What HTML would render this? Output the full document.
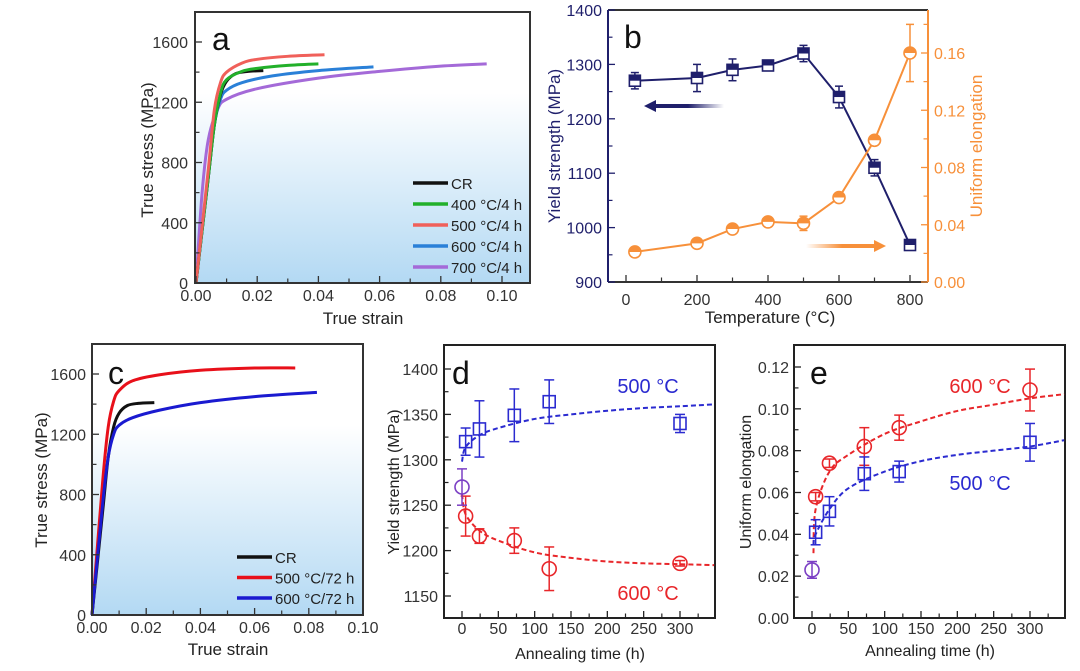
<!DOCTYPE html>
<html><head><meta charset="utf-8">
<style>
html,body{margin:0;padding:0;background:#fff;}
svg{display:block;font-family:"Liberation Sans",Arial,sans-serif;}
</style></head>
<body>
<svg id="fig" width="1080" height="671" viewBox="0 0 1080 671" xmlns="http://www.w3.org/2000/svg">
<defs>
<linearGradient id="bgGrad" x1="0" y1="0" x2="0" y2="1">
<stop offset="0" stop-color="#ffffff"/><stop offset="0.3" stop-color="#ffffff"/><stop offset="1" stop-color="#b3d9f3"/>
</linearGradient>
<linearGradient id="navyArr" x1="0" y1="0" x2="1" y2="0">
<stop offset="0" stop-color="#1f1f6b"/><stop offset="0.5" stop-color="#1f1f6b"/><stop offset="1" stop-color="#1f1f6b" stop-opacity="0"/>
</linearGradient>
<linearGradient id="orArr" x1="0" y1="0" x2="1" y2="0">
<stop offset="0" stop-color="#f7903a" stop-opacity="0"/><stop offset="0.5" stop-color="#f7903a"/><stop offset="1" stop-color="#f7903a"/>
</linearGradient>
</defs>
</svg>
<script>
// ---------- Panel a data ----------
const aCR_x=[0,0.004,0.006,0.008,0.010,0.013,0.017,0.022];
const aCR_y=[0,700,1050,1250,1340,1390,1405,1410];
const a400_x=[0,0.004,0.006,0.008,0.010,0.015,0.020,0.030,0.040];
const a400_y=[0,700,1050,1260,1350,1405,1425,1445,1455];
const a500_x=[0,0.004,0.006,0.008,0.010,0.015,0.020,0.030,0.042];
const a500_y=[0,750,1150,1330,1400,1460,1485,1505,1515];
const a600_x=[0,0.004,0.006,0.008,0.010,0.015,0.025,0.040,0.058];
const a600_y=[0,700,1050,1220,1280,1330,1375,1410,1435];
const a700_x=[0,0.002,0.004,0.007,0.010,0.020,0.040,0.060,0.080,0.095];
const a700_y=[0,600,950,1150,1220,1290,1360,1405,1440,1455];
const aLegend=["CR","400 \u00B0C/4 h","500 \u00B0C/4 h","600 \u00B0C/4 h","700 \u00B0C/4 h"];
// ---------- Panel b data ----------
const bTemp=[25,200,300,400,500,600,700,800];
const bYS=[1270,1275,1290,1298,1320,1240,1110,968];
const bYSerr=[15,25,20,5,15,20,15,5];
const bUE=[0.021,0.027,0.037,0.042,0.041,0.059,0.099,0.160];
const bUEerr=[0.002,0.002,0.002,0.002,0.005,0.002,0.002,0.020];
// ---------- Panel c data ----------
const cCR_x=[0,0.004,0.006,0.008,0.010,0.013,0.017,0.023];
const cCR_y=[0,700,1050,1250,1340,1390,1405,1410];
const c500_x=[0,0.004,0.006,0.008,0.010,0.015,0.025,0.040,0.060,0.075];
const c500_y=[0,900,1250,1420,1490,1555,1595,1625,1640,1640];
const c600_x=[0,0.004,0.006,0.008,0.010,0.015,0.025,0.040,0.060,0.083];
const c600_y=[0,750,1050,1200,1260,1310,1360,1410,1450,1478];
const cLegend=["CR","500 \u00B0C/72 h","600 \u00B0C/72 h"];
// ---------- Panel d data ----------
const dTime=[5,24,72,120,300];
const d500=[1320,1334,1349,1364,1340];
const d500err=[15,31,29,24,10];
const d600=[1238,1216,1211,1180,1186];
const d600err=[22,8,14,24,3];
const dCR=[1270], dCRerr=[20];
const dFitT=[0,5,24,50,100,150,200,250,300,347];
const dFit500=[1298,1314,1327,1335,1345,1350,1354,1357,1359,1361];
const dFit600=[1262,1240,1222,1211,1198,1192,1188,1186,1185,1184];
// ---------- Panel e data ----------
const eTime=[5,24,72,120,300];
const e600=[0.058,0.074,0.082,0.091,0.109];
const e600err=[0.002,0.002,0.009,0.006,0.010];
const e500=[0.041,0.051,0.069,0.070,0.084];
const e500err=[0.006,0.007,0.008,0.005,0.009];
const eCR=[0.023], eCRerr=[0.004];
const eFitT=[2,5,24,50,100,150,200,250,300,347];
const eFit600=[0.031,0.052,0.070,0.078,0.088,0.094,0.099,0.102,0.105,0.107];
const eFit500=[0.035,0.040,0.052,0.062,0.070,0.075,0.078,0.080,0.082,0.085];

const NS="http://www.w3.org/2000/svg";
const svg=document.getElementById('fig');
function mk(tag,attrs,parent){const e=document.createElementNS(NS,tag);for(const k in attrs)e.setAttribute(k,attrs[k]);(parent||svg).appendChild(e);return e;}
function lin(d0,d1,r0,r1){return v=>r0+(v-d0)*(r1-r0)/(d1-d0);}
function smoothPath(pts){
 let d="M"+pts[0][0]+","+pts[0][1];
 for(let i=0;i<pts.length-1;i++){
  const p0=pts[Math.max(0,i-1)],p1=pts[i],p2=pts[i+1],p3=pts[Math.min(pts.length-1,i+2)];
  const c1=[p1[0]+(p2[0]-p0[0])/6,p1[1]+(p2[1]-p0[1])/6];
  const c2=[p2[0]-(p3[0]-p1[0])/6,p2[1]-(p3[1]-p1[1])/6];
  d+=" C"+c1[0]+","+c1[1]+" "+c2[0]+","+c2[1]+" "+p2[0]+","+p2[1];
 }
 return d;
}
function txt(x,y,s,attrs,parent){const t=mk('text',Object.assign({x:x,y:y},attrs||{}),parent);t.textContent=s;return t;}
function fmt(v,dec){return v.toFixed(dec);}
function xTicks(g,sx,y0,vals,minor,len,dec,col,labY,fs){
 vals.forEach(v=>{mk('line',{x1:sx(v),x2:sx(v),y1:y0,y2:y0-len,stroke:col,'stroke-width':1.3},g);
  const t=txt(sx(v),labY,fmt(v,dec),{'text-anchor':'middle','font-size':fs||16,fill:'#333'},g);
  });
 minor.forEach(v=>mk('line',{x1:sx(v),x2:sx(v),y1:y0,y2:y0-len/2-1,stroke:col,'stroke-width':1.2},g));
}
function yTicks(g,sy,x0,vals,minor,len,dec,col,labX,anchor,lcol,dir,fs){
 dir=dir||1;
 vals.forEach(v=>{mk('line',{x1:x0,x2:x0+dir*len,y1:sy(v),y2:sy(v),stroke:col,'stroke-width':1.3},g);
  const t=txt(labX,sy(v)+6,fmt(v,dec),{'text-anchor':anchor,'font-size':fs||16,fill:lcol||'#333'},g);
  });
 minor.forEach(v=>mk('line',{x1:x0,x2:x0+dir*(len/2+1),y1:sy(v),y2:sy(v),stroke:col,'stroke-width':1.2},g));
}
function group(name){const g=mk('g',{});return g;}

// ================= Panel a =================
(function(){
 const g=group('panel-a');
 const L=195,T=12,R=530,B=283;
 const sx=lin(0,0.10,196,502), sy=lin(0,1600,283,42);
 mk('rect',{x:L,y:T,width:R-L,height:B-T,fill:'url(#bgGrad)'},g);
 const series=[[aCR_x,aCR_y,'#111111'],[a400_x,a400_y,'#22b02a'],[a500_x,a500_y,'#f0605a'],[a600_x,a600_y,'#2a80d8'],[a700_x,a700_y,'#a46ad8']];
 const names=['curve-cr','curve-400c','curve-500c','curve-600c','curve-700c'];
 [4,3,0,1,2].forEach(i=>{const s=series[i];const p=mk('path',{d:smoothPath(s[0].map((v,j)=>[sx(v),sy(s[1][j])])),fill:'none',stroke:s[2],'stroke-width':3},g);
  });
 mk('rect',{x:L,y:T,width:R-L,height:B-T,fill:'none',stroke:'#333','stroke-width':2},g);
 xTicks(g,sx,B,[0,0.02,0.04,0.06,0.08,0.10],[0.01,0.03,0.05,0.07,0.09],7,2,'#333',301);
 yTicks(g,sy,L,[0,400,800,1200,1600],[200,600,1000,1400],7,0,'#333',188,'end');
 const xt=txt(363,324,'True strain',{'text-anchor':'middle','font-size':17,fill:'#222'},g);
 const yt=txt(0,0,'True stress (MPa)',{'text-anchor':'middle','font-size':17,fill:'#222',transform:'translate(153,150) rotate(-90)'},g);
 const lt=txt(212,50,'a',{'font-size':32,fill:'#111'},g);
 aLegend.forEach((s,i)=>{const y=183+i*21;
  const e=mk('g',{},g);
  mk('line',{x1:413,x2:448,y1:y,y2:y,stroke:series[i][2],'stroke-width':3.5},e);
  txt(451,y+6,s,{'font-size':15,fill:'#222'},e);});
})();

// ================= Panel b =================
(function(){
 const g=group('panel-b');
 const L=608,T=10,R=928,B=282,navy='#1f1f6b',or='#f7903a';
 const sx=lin(0,800,626,910), sy=lin(900,1400,282,10), sr=lin(0,0.16,282,53);
 mk('line',{x1:L,y1:T,x2:R,y2:T,stroke:'#333','stroke-width':2},g);
 mk('line',{x1:L,y1:B,x2:R,y2:B,stroke:'#333','stroke-width':2},g);
 mk('line',{x1:L,y1:T,x2:L,y2:B,stroke:navy,'stroke-width':2},g);
 mk('line',{x1:R,y1:T,x2:R,y2:B,stroke:or,'stroke-width':2},g);
 xTicks(g,sx,B,[0,200,400,600,800],[100,300,500,700],7,0,'#333',305);
 yTicks(g,sy,L,[900,1000,1100,1200,1300,1400],[950,1050,1150,1250,1350],7,0,navy,602,'end',navy);
 yTicks(g,sr,R,[0,0.04,0.08,0.12,0.16],[0.02,0.06,0.10,0.14,0.18],7,2,or,934,'start',or,-1);
 mk('polyline',{points:bTemp.map((t,i)=>sx(t)+','+sy(bYS[i])).join(' '),fill:'none',stroke:navy,'stroke-width':2},g);
 bTemp.forEach((t,i)=>{const x=sx(t),y=sy(bYS[i]),y1=sy(bYS[i]+bYSerr[i]),y2=sy(bYS[i]-bYSerr[i]);
  const m=mk('g',{},g);
  mk('line',{x1:x,x2:x,y1:y1,y2:y2,stroke:navy,'stroke-width':1.5},m);
  mk('line',{x1:x-4,x2:x+4,y1:y1,y2:y1,stroke:navy,'stroke-width':1.5},m);
  mk('line',{x1:x-4,x2:x+4,y1:y2,y2:y2,stroke:navy,'stroke-width':1.5},m);
  mk('rect',{x:x-5.5,y:y-5.5,width:11,height:11,fill:'#fff',stroke:navy,'stroke-width':1.6},m);
  mk('rect',{x:x-5.5,y:y-5.5,width:11,height:5.5,fill:navy},m);});
 mk('polyline',{points:bTemp.map((t,i)=>sx(t)+','+sr(bUE[i])).join(' '),fill:'none',stroke:or,'stroke-width':2},g);
 bTemp.forEach((t,i)=>{const x=sx(t),y=sr(bUE[i]),y1=sr(bUE[i]+bUEerr[i]),y2=sr(bUE[i]-bUEerr[i]);
  const m=mk('g',{},g);
  mk('line',{x1:x,x2:x,y1:y1,y2:y2,stroke:or,'stroke-width':1.5},m);
  mk('line',{x1:x-4,x2:x+4,y1:y1,y2:y1,stroke:or,'stroke-width':1.5},m);
  mk('line',{x1:x-4,x2:x+4,y1:y2,y2:y2,stroke:or,'stroke-width':1.5},m);
  mk('circle',{cx:x,cy:y,r:6,fill:'#fff',stroke:or,'stroke-width':1.6},m);
  mk('path',{d:`M${x-6},${y} A6,6 0 0 1 ${x+6},${y} Z`,fill:or},m);});
 const a1=mk('g',{},g);
 mk('rect',{x:652,y:104,width:72,height:4,fill:'url(#navyArr)'},a1);
 mk('polygon',{points:'644,106 656,100 656,112',fill:navy},a1);
 const a2=mk('g',{},g);
 mk('rect',{x:806,y:244,width:72,height:4,fill:'url(#orArr)'},a2);
 mk('polygon',{points:'886,246 874,240 874,252',fill:or},a2);
 const lt=txt(624,48,'b',{'font-size':32,fill:'#111'},g);
 const xt=txt(770,323,'Temperature (\u00B0C)',{'text-anchor':'middle','font-size':17,fill:'#222'},g);
 const yt=txt(0,0,'Yield strength (MPa)',{'text-anchor':'middle','font-size':17,fill:navy,transform:'translate(560,146) rotate(-90)'},g);
 const yr=txt(0,0,'Uniform elongation',{'text-anchor':'middle','font-size':17,fill:or,transform:'translate(982,146) rotate(-90)'},g);
})();

// ================= Panel c =================
(function(){
 const g=group('panel-c');
 const L=92,T=344,R=363,B=615;
 const sx=lin(0,0.10,92,363), sy=lin(0,1600,615,374);
 mk('rect',{x:L,y:T,width:R-L,height:B-T,fill:'url(#bgGrad)'},g);
 const series=[[cCR_x,cCR_y,'#111111'],[c500_x,c500_y,'#e8101a'],[c600_x,c600_y,'#1a1ad0']];
 const names=['curve-cr','curve-500c-72h','curve-600c-72h'];
 [1,0,2].forEach(i=>{const s=series[i];const p=mk('path',{d:smoothPath(s[0].map((v,j)=>[sx(v),sy(s[1][j])])),fill:'none',stroke:s[2],'stroke-width':3},g);
  });
 mk('rect',{x:L,y:T,width:R-L,height:B-T,fill:'none',stroke:'#333','stroke-width':2},g);
 xTicks(g,sx,B,[0,0.02,0.04,0.06,0.08,0.10],[0.01,0.03,0.05,0.07,0.09],7,2,'#333',633);
 yTicks(g,sy,L,[0,400,800,1200,1600],[200,600,1000,1400],7,0,'#333',86,'end');
 const xt=txt(228,655,'True strain',{'text-anchor':'middle','font-size':17,fill:'#222'},g);
 const yt=txt(0,0,'True stress (MPa)',{'text-anchor':'middle','font-size':17,fill:'#222',transform:'translate(47,480) rotate(-90)'},g);
 const lt=txt(108,384,'c',{'font-size':32,fill:'#111'},g);
 cLegend.forEach((s,i)=>{const y=557+i*20.5;
  const e=mk('g',{},g);
  mk('line',{x1:237,x2:272,y1:y,y2:y,stroke:series[i][2],'stroke-width':3.5},e);
  txt(275,y+6,s,{'font-size':15,fill:'#222'},e);});
})();

function marker(g,type,x,y,col,name){
 let m;
 if(type==='sq'){m=mk('rect',{x:x-6,y:y-6,width:12,height:12,fill:'none',stroke:col,'stroke-width':1.6},g);}
 else{m=mk('circle',{cx:x,cy:y,r:7,fill:'none',stroke:col,'stroke-width':1.6},g);}
 
}
function errbar(g,x,y1,y2,col){mk('line',{x1:x,x2:x,y1:y1,y2:y2,stroke:col,'stroke-width':1.5},g);
 mk('line',{x1:x-5,x2:x+5,y1:y1,y2:y1,stroke:col,'stroke-width':1.5},g);mk('line',{x1:x-5,x2:x+5,y1:y2,y2:y2,stroke:col,'stroke-width':1.5},g);}
const BLUE='#2b2bd0',RED='#e8262a',PURP='#7b3fc4';

// ================= Panel d =================
(function(){
 const g=group('panel-d');
 const L=444,T=345,R=715,B=618;
 const sx=lin(0,300,462,680), sy=lin(1150,1400,596,369);
 mk('rect',{x:L,y:T,width:R-L,height:B-T,fill:'#fff',stroke:'#222','stroke-width':2},g);
 xTicks(g,sx,B,[0,50,100,150,200,250,300],[25,75,125,175,225,275,325],7,0,'#222',634,16);
 yTicks(g,sy,L,[1150,1200,1250,1300,1350,1400],[1175,1225,1275,1325,1375],7,0,'#222',438,'end','#333',1,16);
 const f1=mk('path',{d:smoothPath(dFitT.map((t,i)=>[sx(t),sy(dFit500[i])])),fill:'none',stroke:BLUE,'stroke-width':2,'stroke-dasharray':'5,3'},g);
 const f2=mk('path',{d:smoothPath(dFitT.map((t,i)=>[sx(t),sy(dFit600[i])])),fill:'none',stroke:RED,'stroke-width':2,'stroke-dasharray':'5,3'},g);
 dTime.forEach((t,i)=>{errbar(g,sx(t),sy(d500[i]+d500err[i]),sy(d500[i]-d500err[i]),BLUE);marker(g,'sq',sx(t),sy(d500[i]),BLUE,'point-500c');});
 dTime.forEach((t,i)=>{errbar(g,sx(t),sy(d600[i]+d600err[i]),sy(d600[i]-d600err[i]),RED);marker(g,'ci',sx(t),sy(d600[i]),RED,'point-600c');});
 errbar(g,sx(0),sy(dCR[0]+dCRerr[0]),sy(dCR[0]-dCRerr[0]),PURP);marker(g,'ci',sx(0),sy(dCR[0]),PURP,'point-cr');
 const l1=txt(648,393,'500 \u00B0C',{'text-anchor':'middle','font-size':20,fill:BLUE},g);
 const l2=txt(648,600,'600 \u00B0C',{'text-anchor':'middle','font-size':20,fill:RED},g);
 const lt=txt(452,384,'d',{'font-size':32,fill:'#111'},g);
 const xt=txt(580,659,'Annealing time (h)',{'text-anchor':'middle','font-size':16,fill:'#222'},g);
 const yt=txt(0,0,'Yield strength (MPa)',{'text-anchor':'middle','font-size':16,fill:'#222',transform:'translate(399,482) rotate(-90)'},g);
})();

// ================= Panel e =================
(function(){
 const g=group('panel-e');
 const L=794,T=345,R=1065,B=618;
 const sx=lin(0,300,812,1030), sy=lin(0,0.12,618,367);
 mk('rect',{x:L,y:T,width:R-L,height:B-T,fill:'#fff',stroke:'#222','stroke-width':2},g);
 xTicks(g,sx,B,[0,50,100,150,200,250,300],[25,75,125,175,225,275,325],7,0,'#222',634,16);
 yTicks(g,sy,L,[0,0.02,0.04,0.06,0.08,0.10,0.12],[0.01,0.03,0.05,0.07,0.09,0.11],7,2,'#222',789,'end','#333',1,16);
 const f1=mk('path',{d:smoothPath(eFitT.map((t,i)=>[sx(t),sy(eFit600[i])])),fill:'none',stroke:RED,'stroke-width':2,'stroke-dasharray':'5,3'},g);
 const f2=mk('path',{d:smoothPath(eFitT.map((t,i)=>[sx(t),sy(eFit500[i])])),fill:'none',stroke:BLUE,'stroke-width':2,'stroke-dasharray':'5,3'},g);
 eTime.forEach((t,i)=>{errbar(g,sx(t),sy(e600[i]+e600err[i]),sy(e600[i]-e600err[i]),RED);marker(g,'ci',sx(t),sy(e600[i]),RED,'point-600c');});
 eTime.forEach((t,i)=>{errbar(g,sx(t),sy(e500[i]+e500err[i]),sy(e500[i]-e500err[i]),BLUE);marker(g,'sq',sx(t),sy(e500[i]),BLUE,'point-500c');});
 errbar(g,sx(0),sy(eCR[0]+eCRerr[0]),sy(eCR[0]-eCRerr[0]),PURP);marker(g,'ci',sx(0),sy(eCR[0]),PURP,'point-cr');
 const l1=txt(980,393,'600 \u00B0C',{'text-anchor':'middle','font-size':20,fill:RED},g);
 const l2=txt(980,490,'500 \u00B0C',{'text-anchor':'middle','font-size':20,fill:BLUE},g);
 const lt=txt(810,384,'e',{'font-size':32,fill:'#111'},g);
 const xt=txt(930,656,'Annealing time (h)',{'text-anchor':'middle','font-size':16,fill:'#222'},g);
 const yt=txt(0,0,'Uniform elongation',{'text-anchor':'middle','font-size':16,fill:'#222',transform:'translate(751,482) rotate(-90)'},g);
})();
</script>
</body></html>
